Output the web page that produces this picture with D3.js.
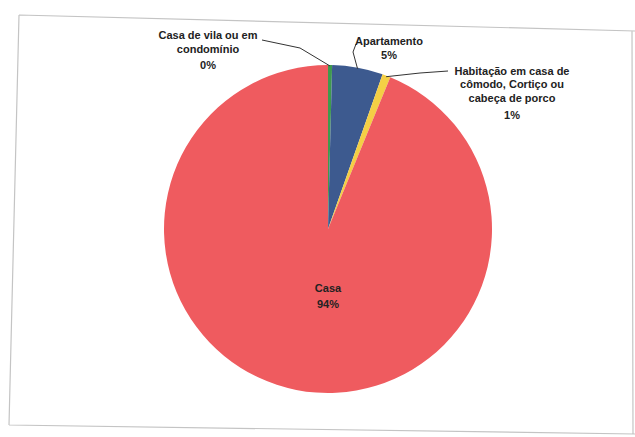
<!DOCTYPE html>
<html>
<head>
<meta charset="utf-8">
<script src="https://cdn.jsdelivr.net/npm/d3@7"></script>
<style>
  html, body { margin: 0; padding: 0; background: #fff; }
  svg { display: block; }
  text { font-family: "Liberation Sans", Arial, sans-serif; font-weight: bold; fill: #222; }
</style>
</head>
<body>
<svg id="chart" width="635" height="437"></svg>
<script>
// Tipo de domicílio (percent of households)
const categories = [
  "Casa de vila ou em condomínio",
  "Apartamento",
  "Habitação em casa de cômodo, Cortiço ou cabeça de porco",
  "Casa"
];
const values = [0.4, 5.0, 0.8, 93.8];
const labels = ["0%", "5%", "1%", "94%"];
const colors = ["#3f9a4e", "#3d5a8f", "#f4cf45", "#ef5b5f"];

const svg = d3.select("#chart");
const W = 635, H = 437;

// outer frame of the chart area
svg.append("path")
  .attr("d", "M19,15 L635,31 M19,15 L9,425 M9,425 L635,434 M632,31 L633,434")
  .attr("fill", "none")
  .attr("stroke", "#c4c4c4")
  .attr("stroke-width", 1.2);

const cx = 328, cy = 229, R = 164;
const data = categories.map((c, i) => ({ name: c, value: values[i], label: labels[i], color: colors[i] }));

const pie = d3.pie().value(d => d.value).sort(null);
const arc = d3.arc().innerRadius(0).outerRadius(R);
const arcs = pie(data);

const g = svg.append("g").attr("transform", `translate(${cx},${cy})`);
g.selectAll("path.slice")
  .data(arcs)
  .join("path")
  .attr("class", "slice")
  .attr("d", arc)
  .attr("fill", d => d.data.color);

// point on the rim at the middle of a slice
function rim(d, r) {
  const a = (d.startAngle + d.endAngle) / 2;
  return [cx + Math.sin(a) * r, cy - Math.cos(a) * r];
}

// leader lines from outside labels to their slices
const leaders = [
  { i: 0, pts: [[262, 40], [300, 48]] },
  { i: 1, pts: [[356, 44], [353, 52]] },
  { i: 2, pts: [[448, 71], [420, 73]] }
];
const line = d3.line();
leaders.forEach(l => {
  const p = l.pts.concat([rim(arcs[l.i], R - 1)]);
  svg.append("path")
    .attr("d", line(p))
    .attr("fill", "none")
    .attr("stroke", "#333")
    .attr("stroke-width", 1);
});

// data labels
const labelBlocks = [
  { i: 0, x: 208, lines: ["Casa de vila ou em", "condomínio"], ys: [39, 53], vy: 69 },
  { i: 1, x: 389, lines: ["Apartamento"], ys: [45], vy: 59 },
  { i: 2, x: 512, lines: ["Habitação em casa de", "cômodo, Cortiço ou", "cabeça de porco"], ys: [75, 88, 102], vy: 119 },
  { i: 3, x: 328, lines: ["Casa"], ys: [292], vy: 308 }
];
labelBlocks.forEach(b => {
  const t = svg.append("g").attr("font-size", 11).attr("text-anchor", "middle");
  b.lines.forEach((s, k) => {
    t.append("text").attr("x", b.x).attr("y", b.ys[k]).text(s);
  });
  t.append("text").attr("x", b.x).attr("y", b.vy).text(arcs[b.i].data.label);
});
</script>
</body>
</html>
